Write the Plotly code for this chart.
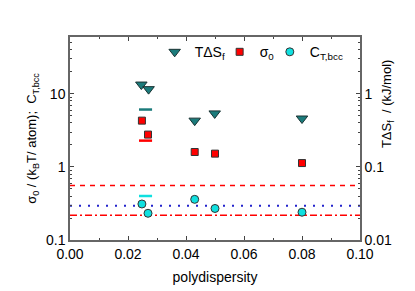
import plotly.graph_objects as go

# data
x_tds = [0.0246, 0.0271, 0.0430, 0.0499, 0.0800]
tds = [1.34, 1.16, 0.43, 0.54, 0.46]          # right axis, kJ/mol
x_sig = [0.0248, 0.0269, 0.0430, 0.0500, 0.0800]
sigma0 = [4.3, 2.77, 1.6, 1.52, 1.13]
x_ct = [0.0248, 0.0269, 0.0430, 0.0500, 0.0800]
ct_bcc = [0.311, 0.232, 0.36, 0.27, 0.24]

seg_x = [0.0238, 0.0283]
seg_tds = 6.1       # left-scale value of teal segment
seg_sig = 2.29
seg_ct = 0.40

line_x = [0.0, 0.1]
h_dash = 0.555
h_dot = 0.295
h_dashdot = 0.218

teal = "#1b7b7b"
red = "#ff0000"
cyan = "#10e0e0"

fig = go.Figure()
fig.add_trace(go.Scatter(x=line_x, y=[h_dash]*2, mode="lines", line=dict(color=red, width=1.5, dash="5px,5px"), showlegend=False))
fig.add_trace(go.Scatter(x=line_x, y=[h_dot]*2, mode="lines", line=dict(color="#2222cc", width=2, dash="2px,7px"), showlegend=False))
fig.add_trace(go.Scatter(x=line_x, y=[h_dashdot]*2, mode="lines", line=dict(color=red, width=1.5, dash="7px,3px,2px,3px"), showlegend=False))
fig.add_trace(go.Scatter(x=seg_x, y=[seg_tds]*2, mode="lines", line=dict(color=teal, width=2.5), showlegend=False))
fig.add_trace(go.Scatter(x=seg_x, y=[seg_sig]*2, mode="lines", line=dict(color=red, width=2.5), showlegend=False))
fig.add_trace(go.Scatter(x=seg_x, y=[seg_ct]*2, mode="lines", line=dict(color=cyan, width=2.5), showlegend=False))

fig.add_trace(go.Scatter(x=x_tds, y=tds, yaxis="y2", mode="markers", name="TΔS<sub>f</sub>", legend="legend",
                         marker=dict(symbol="triangle-down", size=10, color=teal, line=dict(color="#1a3333", width=1))))
fig.add_trace(go.Scatter(x=x_sig, y=sigma0, mode="markers", name="σ<sub>0</sub>", legend="legend2",
                         marker=dict(symbol="square", size=7, color=red, line=dict(color="#333", width=1))))
fig.add_trace(go.Scatter(x=x_ct, y=ct_bcc, mode="markers", name="C<sub>T,bcc</sub>", legend="legend3",
                         marker=dict(symbol="circle", size=8, color=cyan, line=dict(color="#333", width=1))))

axcol = "#666666"
leg = dict(orientation="h", y=0.925, xanchor="left", yanchor="middle",
           bgcolor="rgba(0,0,0,0)", font=dict(size=14), itemwidth=30)
fig.update_layout(
    width=415, height=291,
    margin=dict(l=62, r=63, t=29, b=59),
    paper_bgcolor="white", plot_bgcolor="white",
    font=dict(family="Liberation Sans, Arial, sans-serif", size=14, color="black"),
    xaxis=dict(range=[0, 0.1], dtick=0.02, tickformat=".2f", ticks="inside", ticklen=4,
               minor=dict(dtick=0.01, ticks="inside", ticklen=2),
               showline=True, linecolor=axcol, linewidth=1.5, mirror="ticks", showgrid=False, zeroline=False,
               title=dict(text="polydispersity", font=dict(size=14), standoff=12)),
    yaxis=dict(type="log", range=[-1, 1.778], ticks="inside", ticklen=4,
               tickvals=[0.1, 1, 10], ticktext=["0.1", "1", "10"],
               minor=dict(ticks="inside", ticklen=2, tickvals=[0.2,0.3,0.4,0.5,0.6,0.7,0.8,0.9,2,3,4,5,6,7,8,9,20,30,40,50]),
               showline=True, linecolor=axcol, linewidth=1.5, showgrid=False, zeroline=False,
               title=dict(text="σ<sub>0</sub> / (k<sub>B</sub>T/ atom);  C<sub>T,bcc</sub>", font=dict(size=13), standoff=6)),
    yaxis2=dict(type="log", range=[-2, 0.778], overlaying="y", side="right", ticks="inside", ticklen=4,
                tickvals=[0.01, 0.1, 1], ticktext=["0.01", "0.1", "1"],
                minor=dict(ticks="inside", ticklen=2, tickvals=[0.02,0.03,0.04,0.05,0.06,0.07,0.08,0.09,0.2,0.3,0.4,0.5,0.6,0.7,0.8,0.9,2,3,4,5]),
                showline=True, linecolor=axcol, linewidth=1.5, showgrid=False, zeroline=False),
    legend=dict(leg, x=0.292),
    legend2=dict(leg, x=0.516),
    legend3=dict(leg, x=0.689),
    annotations=[dict(text="TΔS<sub>f</sub>  / (kJ/mol)", textangle=-90, xref="paper", yref="paper",
                      x=1.097, y=0.67, xanchor="center", yanchor="middle", showarrow=False,
                      font=dict(size=13))],
)

fig.write_html("out.html")
